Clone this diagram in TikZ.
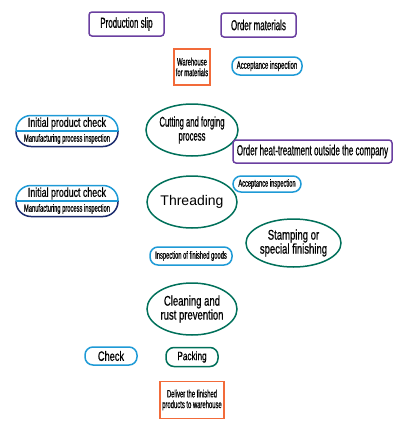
\documentclass[tikz,border=0pt]{standalone}
\usepackage{fontspec}
\setmainfont{Liberation Sans}
\newfontfamily\condfont[FakeStretch=0.55, FakeBold=0.6]{Liberation Sans}
\newfontfamily\narrowfont[FakeStretch=0.68, FakeBold=0.6]{Liberation Sans}
\usetikzlibrary{shapes.geometric}

\definecolor{slipPurple}{HTML}{6A3FA0}
\definecolor{storeOrange}{HTML}{F26B3A}
\definecolor{checkBlue}{HTML}{1E9AD6}
\definecolor{procGreen}{HTML}{00705A}
\definecolor{navyLine}{HTML}{1A2A6C}

\newcommand{\fsz}[1]{\fontsize{#1}{#1}\selectfont}

\tikzset{
  orderbox/.style={draw=slipPurple, line width=1.5pt, rounded corners=3pt,
    minimum height=24pt, inner sep=0pt, font=\condfont\fsz{14.5}},
  storebox/.style={draw=storeOrange, line width=1.5pt, align=center,
    inner sep=0pt, font=\condfont\fsz{10.7}},
  checkpill/.style={draw=checkBlue, line width=1.5pt, rounded corners=8pt,
    inner sep=0pt, font=\condfont\fsz{11}},
  procellipse/.style={ellipse, draw=procGreen, line width=1.5pt,
    minimum width=90pt, minimum height=52pt, inner sep=0pt, align=center,
    font=\narrowfont\fsz{14}},
  halfpill/.style={line width=1.5pt, rounded corners=15pt},
}

\begin{document}
\begin{tikzpicture}[x=1pt, y=-1pt]
  \useasboundingbox (0,0) rectangle (405,432);

  % orders and stores
  \node[orderbox, minimum width=75pt] (slip) at (126.5,24) {Production slip};
  \node[orderbox, minimum width=75pt] (order) at (258.5,25) {Order materials};
  \node[storebox, minimum width=36pt, minimum height=36pt] (store) at (192,67)
    {Warehouse\\for materials};
  \node[checkpill, minimum width=70pt, minimum height=18pt] (accept1) at (267,66)
    {Acceptance inspection};

  % first initial product check
  \draw[halfpill, navyLine] (16,131) |- (67,146.5) -| (118,131);
  \draw[halfpill, checkBlue] (16,131) |- (67,115.5) -| (118,131);
  \draw[checkBlue, line width=1.2pt] (16,131) -- (118,131);
  \node[font=\narrowfont\fsz{13}] (initial1) at (67,123.5) {Initial product check};
  \node[font=\condfont\fsz{10.5}] (manuf1) at (67,139) {Manufacturing process inspection};

  \node[procellipse, font=\condfont\fsz{14}] (cutting) at (192,130) {Cutting and forging\\process};
  \node[orderbox, minimum width=159pt, minimum height=23pt, font=\condfont\fsz{14.6}]
    (heat) at (312.5,151.5) {Order heat-treatment outside the company};

  % second initial product check
  \draw[halfpill, navyLine] (16,201) |- (67,216.5) -| (118,201);
  \draw[halfpill, checkBlue] (16,201) |- (67,185.5) -| (118,201);
  \draw[checkBlue, line width=1.2pt] (16,201) -- (118,201);
  \node[font=\narrowfont\fsz{13}] (initial2) at (67,193.5) {Initial product check};
  \node[font=\condfont\fsz{10.5}] (manuf2) at (67,209) {Manufacturing process inspection};

  \node[checkpill, minimum width=68pt, minimum height=16pt, font=\condfont\fsz{10.4}]
    (accept2) at (267,184) {Acceptance inspection};
  \node[procellipse, font=\fsz{14}] (thread) at (192,202) {Threading};
  \node[procellipse, minimum width=91pt, minimum height=48pt] (stamp) at (293.5,243)
    {Stamping or\\special finishing};
  \node[checkpill, minimum width=82pt, minimum height=18pt, font=\condfont\fsz{10.5}]
    (finished) at (191,256) {Inspection of finished goods};
  \node[procellipse] (clean) at (192,309) {Cleaning and\\rust prevention};

  % shipping
  \node[checkpill, minimum width=52pt, minimum height=18pt, font=\narrowfont\fsz{13.6}]
    (check) at (111,356) {Check};
  \node[checkpill, draw=procGreen, minimum width=52pt, minimum height=19pt,
    font=\narrowfont\fsz{12.1}] (pack) at (192,357) {Packing};
  \node[storebox, minimum width=64pt, minimum height=37pt] (deliver) at (192,400)
    {Deliver the finished\\products to warehouse};
\end{tikzpicture}
\end{document}
